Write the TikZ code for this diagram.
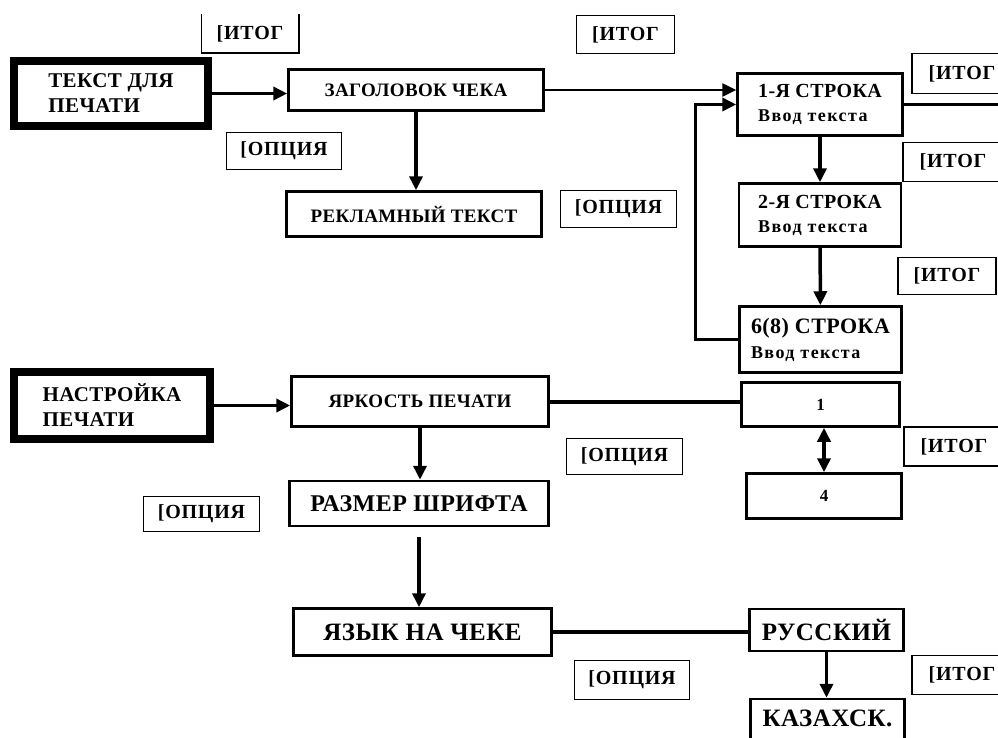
\documentclass[tikz,border=0pt]{standalone}
\usepackage{fontspec}
\setmainfont{Liberation Serif}[LetterSpace=2]
\usetikzlibrary{arrows.meta,positioning}
\newcommand{\inputline}{{\fontsize{18}{20}\selectfont\addfontfeatures{LetterSpace=8}Ввод текста}}
\tikzstyle{blockstyle}=[draw,line width=2.5pt,inner sep=0pt,align=left,font=\bfseries\fontsize{19}{24}\selectfont]
\tikzstyle{mainstyle}=[blockstyle,line width=8pt,font=\bfseries\fontsize{21}{25}\selectfont]
\tikzstyle{tagstyle}=[draw,line width=1.5pt,inner sep=0pt,font=\bfseries\fontsize{20}{22}\selectfont\addfontfeatures{LetterSpace=4}]
\tikzstyle{linkstyle}=[line width=3.5pt,-{Triangle[length=14pt,width=13pt]}]

\begin{document}
\begin{tikzpicture}[x=1pt,y=-1pt]
	\useasboundingbox (0,0) rectangle (998,737);

	% text printing branch
	\node[mainstyle,minimum width=194pt,minimum height=65pt]	(txt)	at (111,93.5)	{ТЕКСТ ДЛЯ\\ПЕЧАТИ};
	\node[blockstyle,minimum width=255pt,minimum height=41pt]	(zag)	at (416,90)		{ЗАГОЛОВОК ЧЕКА};
	\node[blockstyle,minimum width=255pt,minimum height=45pt]	(rek)	at (414,214)	{РЕКЛАМНЫЙ ТЕКСТ};
	\node[blockstyle,minimum width=165pt,minimum height=62pt,font=\bfseries\fontsize{20}{24}\selectfont]	(s1)	at (820,104.5)	{1-Я СТРОКА\\\inputline};
	\node[blockstyle,minimum width=162pt,minimum height=63pt,font=\bfseries\fontsize{20}{24}\selectfont]	(s2)	at (820,215)	{2-Я СТРОКА\\\inputline};
	\node[blockstyle,minimum width=162pt,minimum height=66pt,font=\bfseries\fontsize{22}{25}\selectfont]	(s6)	at (820.5,339.5)	{6(8) СТРОКА\\\inputline};

	% print settings branch
	\node[mainstyle,minimum width=196pt,minimum height=67pt]	(nas)	at (112,405.5)	{НАСТРОЙКА\\ПЕЧАТИ};
	\node[blockstyle,minimum width=257pt,minimum height=50pt]	(yar)	at (420,401.5)	{ЯРКОСТЬ ПЕЧАТИ};
	\node[blockstyle,minimum width=158pt,minimum height=44pt,font=\bfseries\fontsize{17}{19}\selectfont]	(b1)	at (820.5,404.5)	{1};
	\node[blockstyle,minimum width=155pt,minimum height=45pt,font=\bfseries\fontsize{17}{19}\selectfont]	(b4)	at (824,496)	{4};
	\node[blockstyle,minimum width=259pt,minimum height=45pt,font=\bfseries\fontsize{24}{27}\selectfont]	(razm)	at (419,503.5)	{РАЗМЕР ШРИФТА};
	\node[blockstyle,minimum width=258pt,minimum height=47pt,font=\bfseries\fontsize{25}{28}\selectfont]	(yaz)	at (422.5,632)	{ЯЗЫК НА ЧЕКЕ};
	\node[blockstyle,minimum width=154pt,minimum height=42pt,font=\bfseries\fontsize{25}{28}\selectfont]	(rus)	at (826.5,630)	{РУССКИЙ};
	\node[blockstyle,minimum width=154pt,minimum height=60pt,font=\bfseries\fontsize{25}{28}\selectfont,text depth=22pt]	(kaz)	at (827.5,729)	{КАЗАХСК.};

	% tags
	\node[tagstyle,draw=none,minimum width=96pt,minimum height=37pt]	(itog1)	at (250,33.5)	{[ИТОГ};
		\draw[line width=1.5pt] (itog1.north west) |- (itog1.south east) -- (itog1.north east);
	\node[tagstyle,minimum width=98pt,minimum height=38pt]	(itog2)	at (625.5,34.5)	{[ИТОГ};
	\node[tagstyle,minimum width=100pt,minimum height=40pt]	(itog3)	at (962,73.5)	{[ИТОГ};
	\node[tagstyle,minimum width=100pt,minimum height=39pt]	(itog4)	at (953,162)	{[ИТОГ};
	\node[tagstyle,minimum width=98pt,minimum height=37pt]	(itog5)	at (947,276)	{[ИТОГ};
	\node[tagstyle,minimum width=100pt,minimum height=39pt]	(itog6)	at (954,446.5)	{[ИТОГ};
	\node[tagstyle,minimum width=100pt,minimum height=39pt]	(itog7)	at (962,675)	{[ИТОГ};
	\node[tagstyle,minimum width=115pt,minimum height=37pt]	(opc1)	at (284,151)	{[ОПЦИЯ};
	\node[tagstyle,minimum width=116pt,minimum height=37pt]	(opc2)	at (618.5,209)	{[ОПЦИЯ};
	\node[tagstyle,minimum width=116pt,minimum height=36pt]	(opc3)	at (624.5,456.5)	{[ОПЦИЯ};
	\node[tagstyle,minimum width=116pt,minimum height=35pt]	(opc4)	at (201.5,514)	{[ОПЦИЯ};
	\node[tagstyle,minimum width=115pt,minimum height=39pt]	(opc5)	at (632,680)	{[ОПЦИЯ};

	\coordinate (rim) at (998,104.5);

\draw[linkstyle] (txt.east) -- (txt.east -| zag.west);
\draw[linkstyle] (zag.south) -- (zag.south |- rek.north);
\draw[linkstyle,line width=2.5pt] (zag.east) -- (zag.east -| s1.west);
\draw[linkstyle] (s6.west) -- ++(-43,0) |- (s1.west);
\draw[linkstyle] (s1) edge (s2)
			(s2) edge (s6);
\draw[line width=3.5pt] (s1.east) -- (rim);
\draw[linkstyle] (nas.east) -- (nas.east -| yar.west);
\draw[line width=4pt] (yar.east) -- (yar.east -| b1.west);
\draw[linkstyle,{Triangle[length=14pt,width=13pt]}-{Triangle[length=14pt,width=13pt]}] (b1.south -| b4.north) -- (b4.north);
\draw[linkstyle] (yar.south) -- (yar.south |- razm.north);
\draw[linkstyle,shorten <=10pt] (razm.south) -- (razm.south |- yaz.north);
\draw[line width=4pt] (yaz.east) -- (yaz.east -| rus.west);
\draw[linkstyle] (rus.south) -- (rus.south |- kaz.north);

\end{tikzpicture}
\end{document}
